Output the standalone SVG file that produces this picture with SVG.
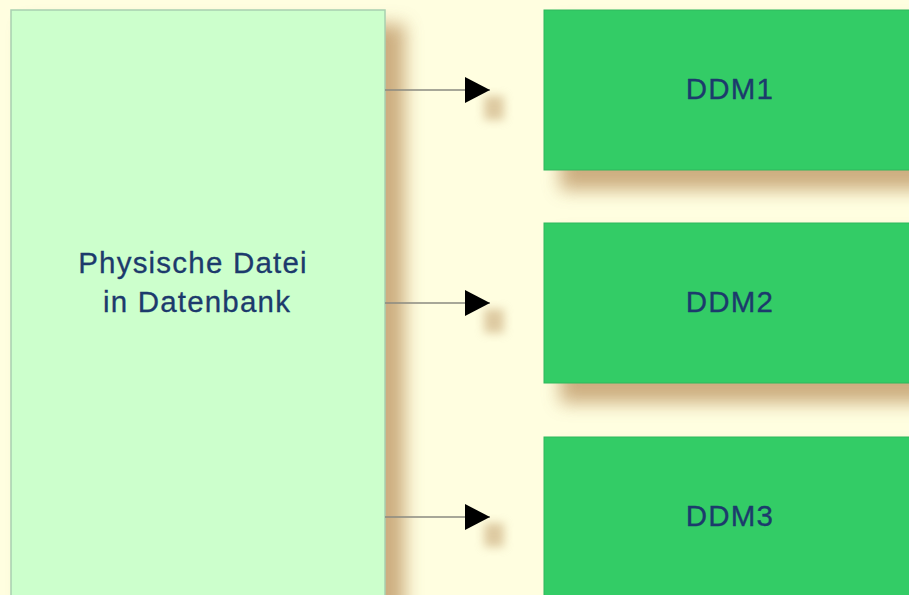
<svg xmlns="http://www.w3.org/2000/svg" width="909" height="595" viewBox="0 0 909 595">
<style>
.lbl{font-family:"Liberation Sans",Arial,sans-serif;font-size:29.5px;letter-spacing:1.2px;fill:#1c3a6c;text-anchor:middle;stroke:#1c3a6c;stroke-width:0.3}
.ddm{fill:#33cc66;stroke:#2eb85c;stroke-width:1}
.conn{stroke:#8a8a80;stroke-width:1.5;fill:none}
</style>
<defs>
<filter id="sh" x="-20%" y="-20%" width="150%" height="150%">
<feGaussianBlur stdDeviation="9"/>
</filter>
<filter id="sh2" x="-50%" y="-50%" width="200%" height="200%">
<feGaussianBlur stdDeviation="5"/>
</filter>
<marker id="arr" markerWidth="26" markerHeight="28" refX="25" refY="14" orient="auto" markerUnits="userSpaceOnUse">
<path d="M0,1 L25,14 L0,27 Z" fill="#000"/>
</marker>
</defs>
<rect width="909" height="595" fill="#fffee0"/>
<g id="shadows" fill="#c4a070" opacity="0.85" filter="url(#sh)">
<rect x="25" y="24" width="380" height="600"/>
<rect x="560" y="24" width="380" height="166"/>
<rect x="560" y="237" width="380" height="166"/>
<rect x="560" y="451" width="380" height="166"/>
</g>
<g id="ashadows" fill="#c8a878" opacity="0.6" filter="url(#sh2)">
<rect x="484" y="96" width="20" height="24"/>
<rect x="484" y="309" width="20" height="24"/>
<rect x="484" y="523" width="20" height="24"/>
</g>
<g id="physical">
<rect x="11" y="10" width="374" height="600" fill="#ccffcc" stroke="#a8d0b0" stroke-width="1.5"/>
<text class="lbl" x="193" y="273">Physische Datei</text>
<text class="lbl" x="197" y="312">in Datenbank</text>
</g>
<g id="ddm1"><rect class="ddm" x="544" y="10" width="380" height="160"/><text class="lbl" x="730" y="99">DDM1</text></g>
<g id="ddm2"><rect class="ddm" x="544" y="223" width="380" height="160"/><text class="lbl" x="730" y="312">DDM2</text></g>
<g id="ddm3"><rect class="ddm" x="544" y="437" width="380" height="160"/><text class="lbl" x="730" y="526">DDM3</text></g>
<g id="connectors">
<line class="conn" x1="385" y1="90" x2="490" y2="90" marker-end="url(#arr)"/>
<line class="conn" x1="385" y1="303" x2="490" y2="303" marker-end="url(#arr)"/>
<line class="conn" x1="385" y1="517" x2="490" y2="517" marker-end="url(#arr)"/>
</g>
</svg>
